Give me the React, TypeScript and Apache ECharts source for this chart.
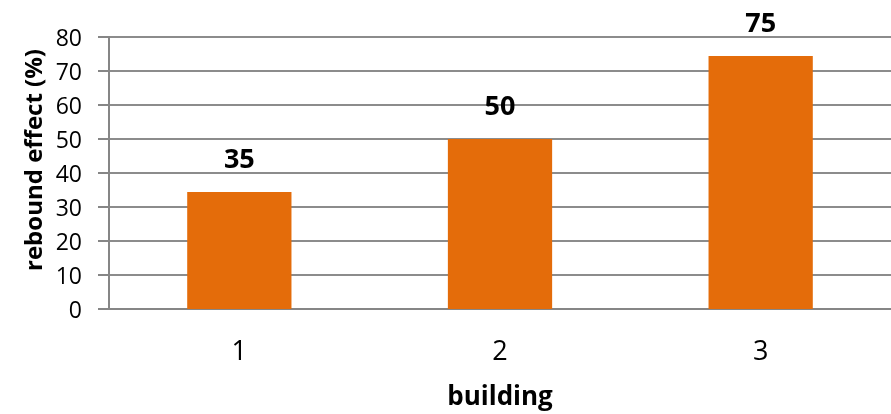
import React, { useEffect, useRef } from "react";
import * as echarts from "echarts";

const categories = ["1", "2", "3"];
const values = [34.4, 50, 74.4];
const valueLabels = ["35", "50", "75"];
const yTicks = { min: 0, max: 80, interval: 10 };
const yAxisTitle = "rebound effect (%)";
const xAxisTitle = "building";

const FONT = "'Open Sans', 'Noto Sans', sans-serif";

export default function App() {
  const ref = useRef<HTMLDivElement>(null);
  useEffect(() => {
    if (!ref.current) return;
    const chart = echarts.init(ref.current, undefined, { renderer: "svg" });
    chart.setOption({
      animation: false,
      grid: { left: 109, right: 0, top: 37, bottom: 104, containLabel: false },
      graphic: [
        {
          type: "text",
          x: 32,
          y: 160,
          rotation: Math.PI / 2,
          style: {
            text: yAxisTitle,
            fontFamily: FONT,
            fontSize: 24,
            fontWeight: "bold",
            fill: "#000",
            align: "center",
            verticalAlign: "middle",
          },
        },
      ],
      xAxis: {
        type: "category",
        data: categories,
        name: xAxisTitle,
        nameLocation: "middle",
        nameGap: 72,
        nameTextStyle: { fontFamily: FONT, fontSize: 26, fontWeight: "bold", color: "#000", lineHeight: 28 },
        axisLine: { show: true, lineStyle: { color: "#868686", width: 2 } },
        axisTick: { show: false },
        axisLabel: { fontFamily: FONT, fontSize: 27, color: "#000", margin: 26, lineHeight: 28 },
        splitLine: { show: false },
      },
      yAxis: {
        type: "value",
        min: yTicks.min,
        max: yTicks.max,
        interval: yTicks.interval,
        axisLine: { show: true, lineStyle: { color: "#868686", width: 2 } },
        axisTick: { show: true, length: 11, lineStyle: { color: "#868686", width: 2 } },
        axisLabel: { fontFamily: FONT, fontSize: 23, color: "#000", margin: 27 },
        splitLine: { show: true, lineStyle: { color: "#8c8c8c", width: 2 } },
      },
      series: [
        {
          type: "bar",
          data: values,
          barWidth: "40%",
          itemStyle: { color: "#E46C0A" },
          label: {
            show: true,
            position: "top",
            distance: 21,
            fontFamily: FONT,
            fontSize: 27,
            fontWeight: "bold",
            color: "#000",
            lineHeight: 28,
            formatter: (p: any) => valueLabels[p.dataIndex],
          },
        },
      ],
    });
    return () => chart.dispose();
  }, []);
  return (
    <div
      ref={ref}
      style={{ position: "fixed", left: 0, top: 0, width: 891, height: 414 }}
    />
  );
}
